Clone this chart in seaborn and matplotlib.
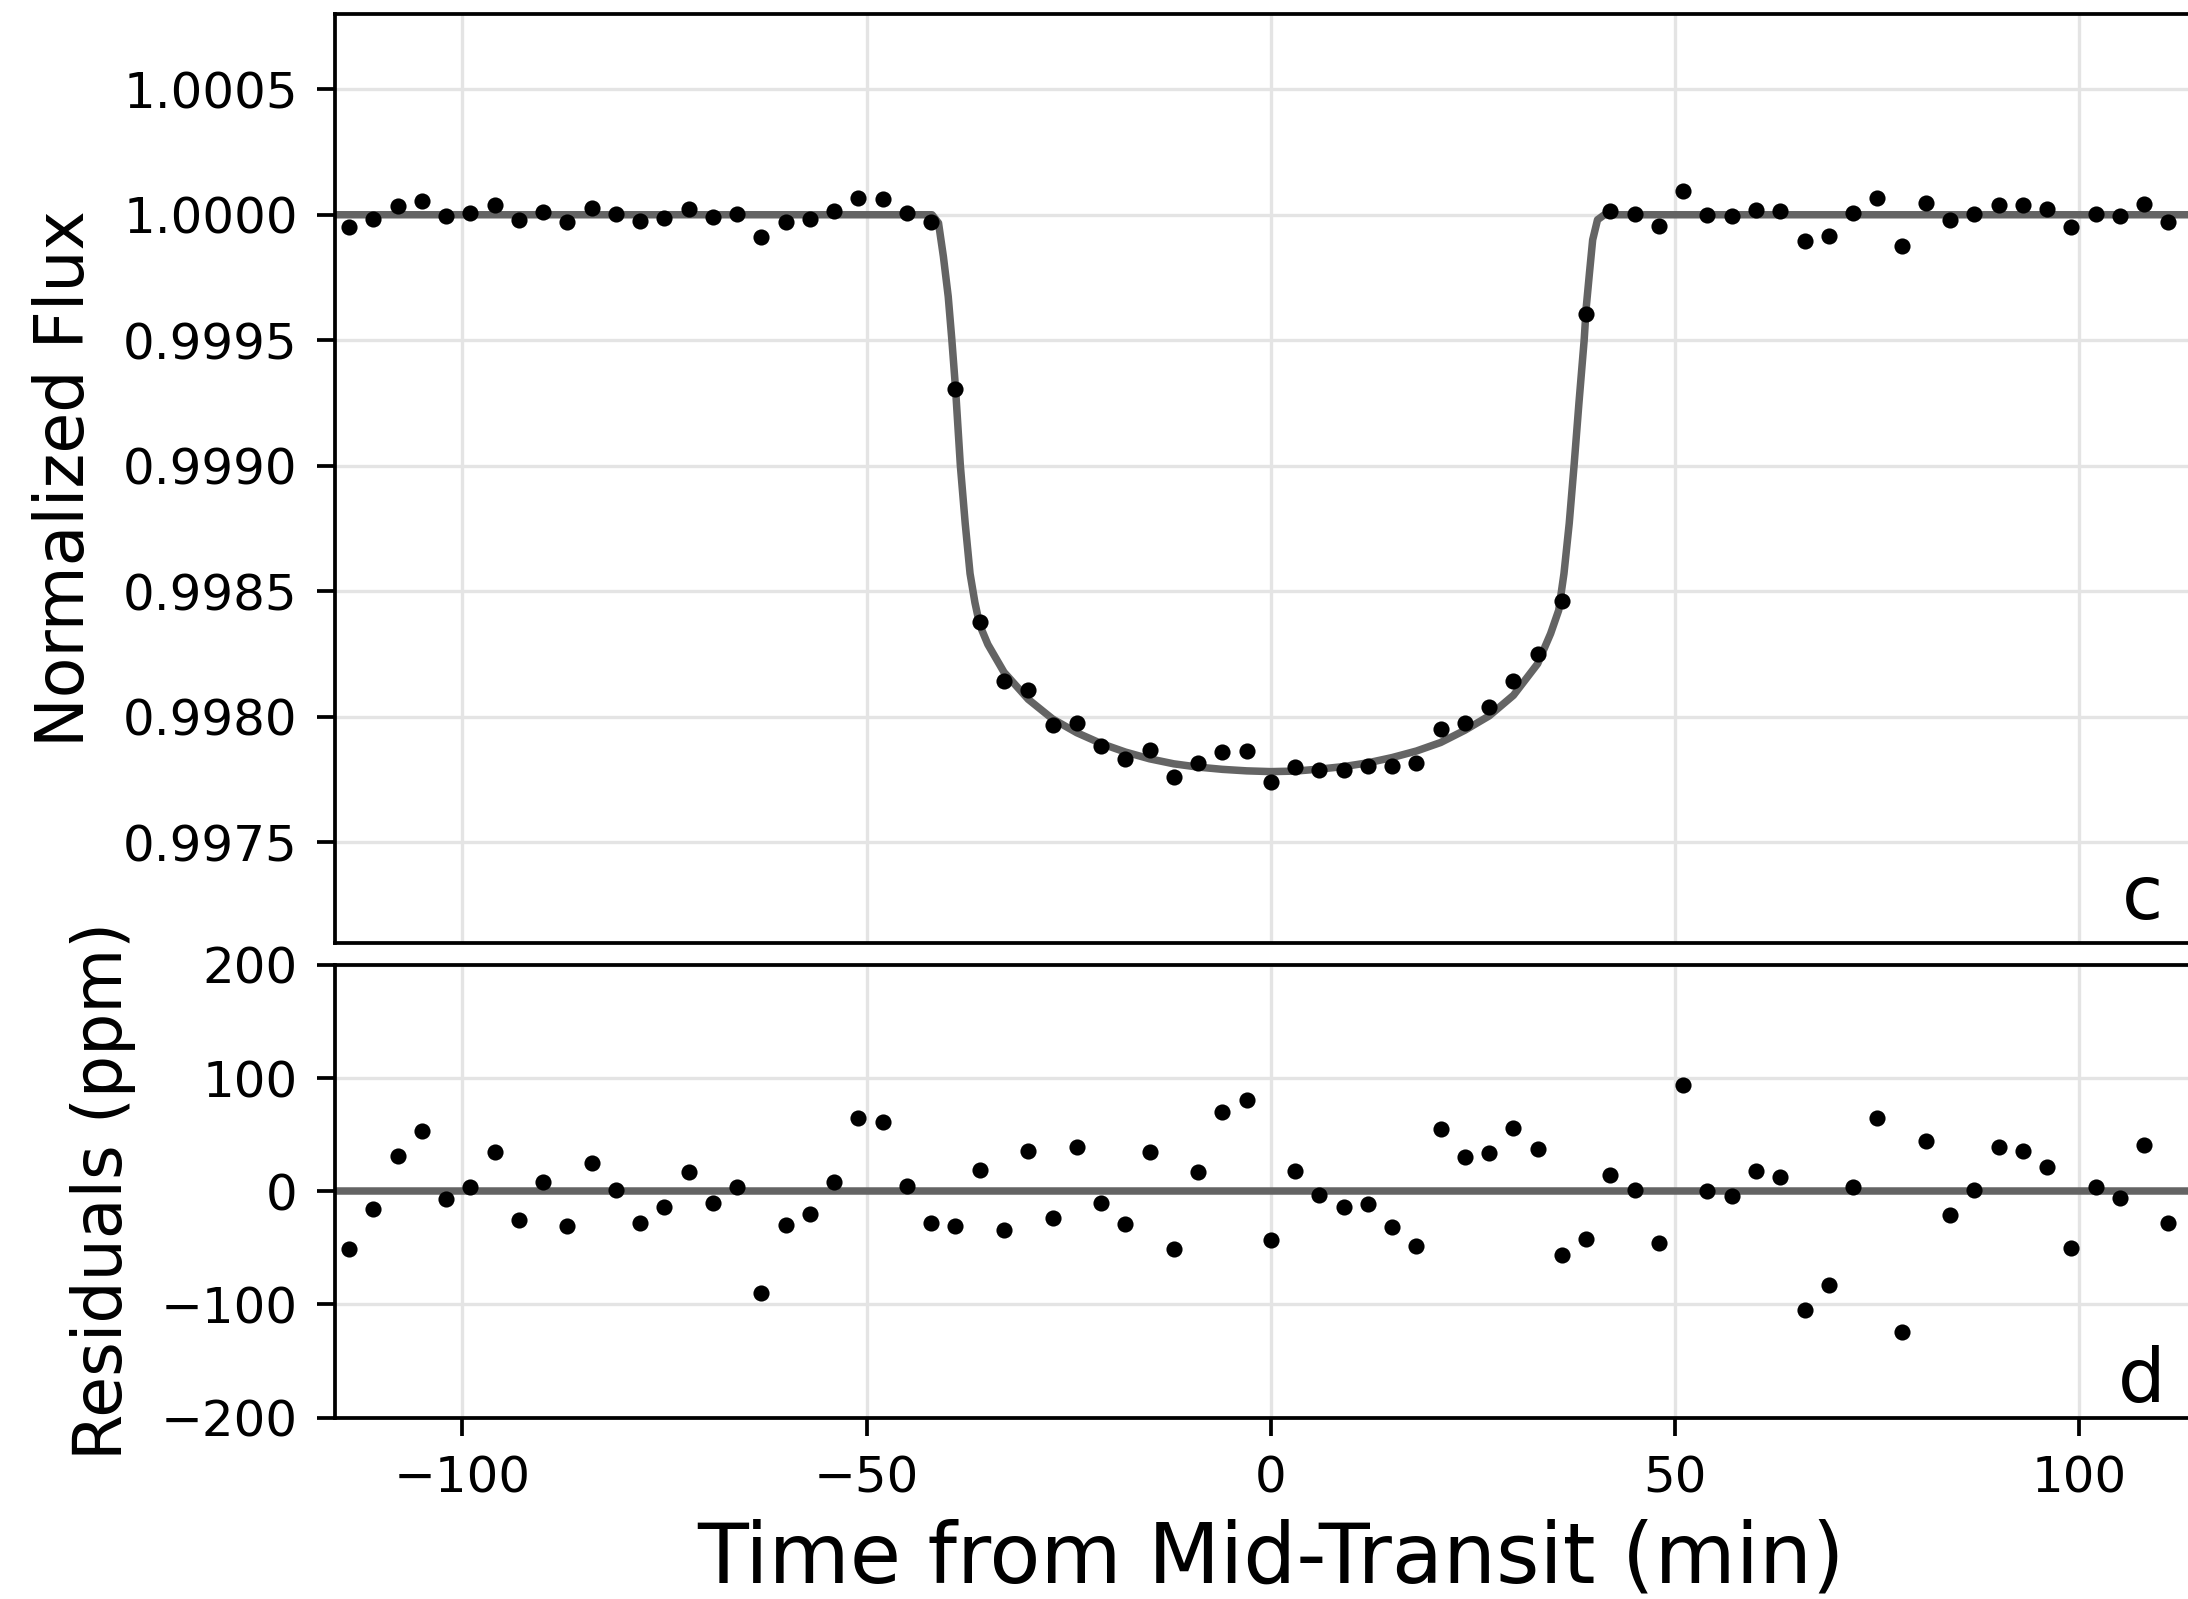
import numpy as np
import pandas as pd
import matplotlib
matplotlib.use("Agg")
import matplotlib.pyplot as plt
from matplotlib.ticker import FormatStrFormatter, FixedLocator
import seaborn as sns

# ---------------- data ----------------
time_min = [-114, -111, -108, -105, -102, -99, -96, -93, -90, -87, -84, -81, -78, -75,
            -72, -69, -66, -63, -60, -57, -54, -51, -48, -45, -42, -39, -36, -33,
            -30, -27, -24, -21, -18, -15, -12, -9, -6, -3, 0, 3, 6, 9, 12, 15, 18,
            21, 24, 27, 30, 33, 36, 39, 42, 45, 48, 51, 54, 57, 60, 63, 66, 69, 72,
            75, 78, 81, 84, 87, 90, 93, 96, 99, 102, 105, 108, 111]

flux = [0.999950, 0.999985, 1.000033, 1.000056, 0.999996, 1.000007, 1.000039, 0.999980,
        1.000009, 0.999973, 1.000027, 1.000003, 0.999975, 0.999988, 1.000021, 0.999992,
        1.000005, 0.999912, 0.999972, 0.999983, 1.000013, 1.000068, 1.000063, 1.000008,
        0.999972, 0.999307, 0.998377, 0.998143, 0.998105, 0.997967, 0.997975, 0.997883,
        0.997830, 0.997867, 0.997761, 0.997816, 0.997860, 0.997865, 0.997738, 0.997801,
        0.997788, 0.997787, 0.997805, 0.997805, 0.997814, 0.997952, 0.997976, 0.998037,
        0.998141, 0.998248, 0.998460, 0.999605, 1.000016, 1.000003, 0.999955, 1.000096,
        1.000000, 0.999997, 1.000020, 1.000016, 0.999896, 0.999916, 1.000007, 1.000065,
        0.999875, 1.000045, 0.999981, 1.000003, 1.000040, 1.000037, 1.000023, 0.999951,
        1.000005, 0.999995, 1.000044, 0.999973]

residual_ppm = [-51, -16, 31, 53, -7, 4, 35, -25, 8, -31, 25, 1, -28, -14, 17, -10, 4, -90,
                -30, -20, 8, 65, 61, 5, -28, -31, 19, -34, 36, -24, 39, -10, -29, 35, -51,
                17, 70, 81, -43, 18, -3, -14, -11, -32, -48, 55, 30, 34, 56, 37, -56, -42,
                14, 1, -46, 94, 0, -4, 18, 13, -105, -83, 4, 65, -124, 44, -21, 1, 39, 36,
                21, -50, 4, -6, 41, -28]

model_time = [-116, -41.9, -41.1, -40.5, -39.9, -39.45, -39.0, -38.4, -37.8, -37.2, -36.6,
              -36.0, -35.0, -33.0, -30, -27, -24, -21, -18, -15, -12, -9, -6, -3, 0, 3, 6,
              9, 12, 15, 18, 21, 24, 27, 30, 33, 34.6, 35.6, 36.25, 36.9, 37.5, 38.1,
              38.75, 39.0, 39.4, 39.8, 40.4, 41.25, 116]
model_flux = [1.000000, 1.000000, 0.999967, 0.999834, 0.999674, 0.999501, 0.999310,
              0.999001, 0.998770, 0.998570, 0.998455, 0.998365, 0.998288, 0.998177,
              0.998069, 0.997991, 0.997936, 0.997893, 0.997859, 0.997832, 0.997812,
              0.997799, 0.997790, 0.997784, 0.997781, 0.997783, 0.997791, 0.997801,
              0.997816, 0.997837, 0.997863, 0.997897, 0.997946, 0.998003, 0.998085,
              0.998211, 0.998331, 0.998424, 0.998570, 0.998770, 0.999001, 0.999249,
              0.999501, 0.999630, 0.999767, 0.999900, 0.999980, 1.000000, 1.000000]

x_ticks = [-100, -50, 0, 50, 100]
flux_ticks = [0.9975, 0.9980, 0.9985, 0.9990, 0.9995, 1.0000, 1.0005]
resid_ticks = [-200, -100, 0, 100, 200]

# ---------------- style ----------------
sns.set_style("ticks")
plt.rcParams["font.family"] = ["DejaVu Sans"]
plt.rcParams["axes.linewidth"] = 0.9
for k in ("text.color", "axes.labelcolor", "xtick.color", "ytick.color",
          "axes.edgecolor"):
    plt.rcParams[k] = "black"

W, H, DPI = 2188, 1599, 300
fig = plt.figure(figsize=(W / DPI, H / DPI), dpi=DPI)

left = 334.5 / W
width = 1872.7 / W  # axes extends past right edge (cropped like the reference)
ax1 = fig.add_axes([left, 1 - 942.5 / H, width, (942.5 - 14) / H])
ax2 = fig.add_axes([left, 1 - 1417.5 / H, width, (1417.5 - 965) / H])

df = pd.DataFrame({"t": time_min, "flux": flux, "res": residual_ppm})
mdf = pd.DataFrame({"t": model_time, "flux": model_flux})

line_col = "#646464"
grid_col = "#e4e4e4"

# top panel
sns.lineplot(data=mdf, x="t", y="flux", ax=ax1, color=line_col, lw=1.8,
             estimator=None, sort=False, zorder=2)
sns.scatterplot(data=df, x="t", y="flux", ax=ax1, color="black", s=15,
                linewidth=0, zorder=3)

# bottom panel
ax2.axhline(0, color=line_col, lw=1.8, zorder=2)
sns.scatterplot(data=df, x="t", y="res", ax=ax2, color="black", s=15,
                linewidth=0, zorder=3)

xlim = (-115.8, 115.8)
for ax in (ax1, ax2):
    ax.set_xlim(*xlim)
    ax.xaxis.set_major_locator(FixedLocator(x_ticks))
    ax.grid(True, color=grid_col, lw=0.8, zorder=0)
    ax.set_axisbelow(True)
    ax.tick_params(direction="out", length=4.3, width=0.9, labelsize=12, pad=4.5,
                   colors="black")
    for s in ax.spines.values():
        s.set_color("black")
        s.set_linewidth(0.9)

ax1.set_ylim(0.99710, 1.00080)
ax1.yaxis.set_major_locator(FixedLocator(flux_ticks))
ax1.yaxis.set_major_formatter(FormatStrFormatter("%.4f"))
ax1.tick_params(axis="x", bottom=False, labelbottom=False)
ax1.set_xlabel("")
ax1.set_ylabel("Normalized Flux", fontsize=16, labelpad=6, color="black")

ax2.set_ylim(-200, 200)
ax2.yaxis.set_major_locator(FixedLocator(resid_ticks))
ax2.set_ylabel("Residuals (ppm)", fontsize=16, labelpad=6, color="black")
ax2.set_xlabel("Time from Mid-Transit (min)", fontsize=20, labelpad=4, color="black")

ax1.annotate("c", xy=(1, 0), xycoords="axes fraction", xytext=(-10.5, 5.6),
             textcoords="offset points", ha="right", va="baseline", fontsize=18,
             color="black")
ax2.annotate("d", xy=(1, 0), xycoords="axes fraction", xytext=(-10.0, 3.7),
             textcoords="offset points", ha="right", va="baseline", fontsize=18,
             color="black")

fig.savefig("out.png", dpi=DPI)
